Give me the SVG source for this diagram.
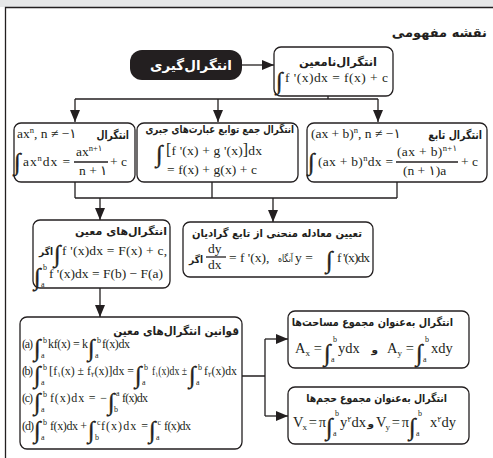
<svg xmlns="http://www.w3.org/2000/svg" width="493" height="458" viewBox="0 0 493 458">
<defs>
<marker id="ah" markerWidth="12" markerHeight="10" refX="12" refY="5" orient="auto" markerUnits="userSpaceOnUse"><path d="M0,0 L12,5 L0,10 z" fill="#231f20"/></marker>
</defs>
<style>
.box{fill:#fff;stroke:#231f20;stroke-width:1.3}
.ln{fill:none;stroke:#231f20;stroke-width:1.3}
.fa{font-family:"DejaVu Sans",sans-serif;font-weight:bold;fill:#231f20}
.fn{font-family:"DejaVu Sans",sans-serif;fill:#231f20}
.m{font-family:"Liberation Serif","DejaVu Sans",serif;font-size:13.5px;fill:#231f20}
.b{font-family:"Liberation Serif","DejaVu Sans",serif;font-size:14.5px;fill:#231f20}
.s{font-family:"Liberation Serif","DejaVu Sans",serif;font-size:12px;fill:#231f20}
.int{font-family:"Liberation Serif","DejaVu Serif",serif;font-size:24px;fill:#231f20;stroke:#231f20;stroke-width:0.4}
.lim{font-family:"Liberation Serif",serif;font-size:8px;fill:#231f20}
</style>
<rect x="0" y="0" width="493" height="7" fill="#e6e7e8"/>
<path class="ln" d="M5.5,458 V7.5 H493"/>
<text class="fa" x="487" y="37" font-size="13" text-anchor="end">نقشه مفهومی</text>

<g id="connectors">
<path class="ln" d="M242,65 H274" marker-end="url(#ah)"/>
<path class="ln" d="M328,96 V99 M75,99 H378"/>
<path class="ln" d="M75,99 V122" marker-end="url(#ah)"/>
<path class="ln" d="M218,99 V122" marker-end="url(#ah)"/>
<path class="ln" d="M378,99 V122" marker-end="url(#ah)"/>
<path class="ln" d="M75,182 V198 M212,182 V198 M397,182 V198 M75,198 H397"/>
<path class="ln" d="M100,198 V220" marker-end="url(#ah)"/>
<path class="ln" d="M273,198 V222" marker-end="url(#ah)"/>
<path class="ln" d="M100,288 V317" marker-end="url(#ah)"/>
<path class="ln" d="M242,376 H265 M265,339 V416"/>
<path class="ln" d="M265,339 H288" marker-end="url(#ah)"/>
<path class="ln" d="M265,416 H288" marker-end="url(#ah)"/>
</g>

<g id="integration">
<rect x="130" y="50" width="112" height="30" rx="12" fill="#231f20"/>
<text class="fa" x="191" y="70" font-size="13.5" text-anchor="middle" style="fill:#fff">انتگرال‌گیری</text>
</g>

<g id="indefinite">
<rect class="box" x="274" y="47" width="119" height="49" rx="7"/>
<text class="fa" x="338" y="66" font-size="11.5" text-anchor="middle">انتگرال‌نامعین</text>
<text class="int" x="276" y="89">∫</text>
<text class="m" x="285" y="82" textLength="103">f '(x)dx = f(x) + c</text>
</g>

<g id="power">
<rect class="box" x="14" y="123" width="121" height="59" rx="7"/>
<text class="m" x="17" y="138" font-size="14">ax<tspan font-size="8.5" dy="-5">n</tspan><tspan dy="5">, n ≠ −۱</tspan></text>
<text class="fa" transform="translate(129,139) scale(0.8,1)" font-size="11.5" text-anchor="end">انتگرال</text>
<text class="int" x="14" y="170">∫</text>
<text class="m" x="23" y="166" textLength="47">ax<tspan font-size="8.5" dy="-5">n</tspan><tspan dy="5">dx =</tspan></text>
<text class="m" x="76" y="156">ax<tspan font-size="8.5" dy="-5">n+۱</tspan></text>
<path class="ln" d="M74,162 H108" stroke-width="1"/>
<text class="m" x="79" y="175">n + ۱</text>
<text class="m" x="110" y="166">+ c</text>
</g>

<g id="sum">
<rect class="box" x="137" y="123" width="161" height="59" rx="7"/>
<text class="fa" transform="translate(294,133) scale(0.79,1)" font-size="11" text-anchor="end">انتگرال جمع توابع عبارت‌های جبری</text>
<text class="int" x="156" y="162">∫</text>
<text class="m" x="166" y="155" textLength="96"><tspan font-size="16">[</tspan>f '(x) + g '(x)<tspan font-size="16">]</tspan>dx</text>
<text class="m" x="167" y="174" textLength="90">= f(x) + g(x) + c</text>
</g>

<g id="linear">
<rect class="box" x="307" y="123" width="180" height="59" rx="7"/>
<text class="m" x="311" y="138" font-size="14">(ax + b)<tspan font-size="8.5" dy="-5">n</tspan><tspan dy="5">, n ≠ −۱</tspan></text>
<text class="fa" transform="translate(482,139) scale(0.82,1)" font-size="11.5" text-anchor="end">انتگرال تابع</text>
<text class="int" x="308" y="170">∫</text>
<text class="m" x="318" y="166" textLength="75">(ax + b)<tspan font-size="8.5" dy="-5">n</tspan><tspan dy="5">dx =</tspan></text>
<text class="m" x="397" y="156" textLength="60">(ax + b)<tspan font-size="8.5" dy="-5">n+۱</tspan></text>
<path class="ln" d="M396,162 H458" stroke-width="1"/>
<text class="m" x="403" y="175">(n + ۱)a</text>
<text class="m" x="461" y="166">+ c</text>
</g>

<g id="definite">
<rect class="box" x="33" y="220" width="137" height="68" rx="7"/>
<text class="fa" x="167" y="235" font-size="11" text-anchor="end">انتگرال‌های معین</text>
<text class="fa" transform="translate(53,255) scale(0.9,1)" font-size="10" text-anchor="end">اگر</text>
<text class="int" x="54" y="262">∫</text>
<text class="m" x="62" y="255" textLength="105">f '(x)dx = F(x) + c,</text>
<text class="int" x="34" y="285">∫</text>
<text class="lim" x="43" y="270">b</text>
<text class="lim" x="41" y="287">a</text>
<text class="m" x="49" y="278" textLength="114">f '(x)dx = F(b) − F(a)</text>
</g>

<g id="gradient">
<rect class="box" x="183" y="222" width="190" height="55" rx="7"/>
<text class="fa" transform="translate(362,237) scale(0.91,1)" font-size="11" text-anchor="end">تعیین معادله منحنی از تابع گرادیان</text>
<text class="fa" transform="translate(203,263) scale(0.9,1)" font-size="10" text-anchor="end">اگر</text>
<text class="m" x="208" y="253">dy</text>
<path class="ln" d="M206,257 H226" stroke-width="1"/>
<text class="m" x="208" y="269">dx</text>
<text class="m" x="229" y="262">= f '(x),</text>
<text class="fn" transform="translate(293,262) scale(0.78,1)" font-size="10" text-anchor="end">آنگاه</text>
<text class="m" x="295" y="262">y =</text>
<text class="int" x="326" y="268">∫</text>
<text class="m" x="337" y="262" textLength="33">f '(x)dx</text>
</g>

<g id="rules">
<rect class="box" x="20" y="317" width="222" height="132" rx="7"/>
<text class="fa" transform="translate(239,335) scale(0.91,1)" font-size="11.5" text-anchor="end">قوانین انتگرال‌های معین</text>
<text class="s" x="22" y="348" textLength="11">(a)</text>
<text class="int" x="34" y="356" font-size="21">∫</text>
<text class="lim" x="43" y="343">b</text>
<text class="lim" x="41" y="358">a</text>
<text class="s" x="48" y="348" textLength="40">kf(x) = k</text>
<text class="int" x="88" y="356" font-size="21">∫</text>
<text class="lim" x="97" y="343">b</text>
<text class="lim" x="95" y="358">a</text>
<text class="s" x="102" y="348" textLength="28">f(x)dx</text>

<text class="s" x="22" y="375" textLength="11">(b)</text>
<text class="int" x="34" y="383" font-size="21">∫</text>
<text class="lim" x="43" y="370">b</text>
<text class="lim" x="41" y="385">a</text>
<text class="s" x="49" y="375" font-size="11" textLength="85" lengthAdjust="spacingAndGlyphs"><tspan font-size="13">[</tspan>f<tspan font-size="7" dy="2">۱</tspan><tspan dy="-2">(x) ± f</tspan><tspan font-size="7" dy="2">۲</tspan><tspan dy="-2">(x)</tspan><tspan font-size="13">]</tspan>dx =</text>
<text class="int" x="135" y="383" font-size="21">∫</text>
<text class="lim" x="144" y="370">b</text>
<text class="lim" x="142" y="385">a</text>
<text class="s" x="152" y="375" font-size="11" textLength="35" lengthAdjust="spacingAndGlyphs">f<tspan font-size="7" dy="2">۱</tspan><tspan dy="-2">(x)dx ±</tspan></text>
<text class="int" x="189" y="383" font-size="21">∫</text>
<text class="lim" x="198" y="370">b</text>
<text class="lim" x="196" y="385">a</text>
<text class="s" x="204" y="375" font-size="11" textLength="33" lengthAdjust="spacingAndGlyphs">f<tspan font-size="7" dy="2">۲</tspan><tspan dy="-2">(x)dx</tspan></text>

<text class="s" x="22" y="402" textLength="11">(c)</text>
<text class="int" x="34" y="410" font-size="21">∫</text>
<text class="lim" x="43" y="397">b</text>
<text class="lim" x="41" y="412">a</text>
<text class="s" x="50" y="402" textLength="57">f(x)dx = −</text>
<text class="int" x="108" y="410" font-size="21">∫</text>
<text class="lim" x="116" y="396">a</text>
<text class="lim" x="114" y="412">b</text>
<text class="s" x="122" y="402" textLength="26">f(x)dx</text>

<text class="s" x="22" y="430" textLength="12">(d)</text>
<text class="int" x="34" y="438" font-size="21">∫</text>
<text class="lim" x="43" y="425">b</text>
<text class="lim" x="41" y="440">a</text>
<text class="s" x="50" y="430" textLength="37">f(x)dx +</text>
<text class="int" x="88" y="438" font-size="21">∫</text>
<text class="lim" x="97" y="425">c</text>
<text class="lim" x="95" y="440">b</text>
<text class="s" x="101" y="430" textLength="47">f(x)dx =</text>
<text class="int" x="149" y="438" font-size="21">∫</text>
<text class="lim" x="157.5" y="425">c</text>
<text class="lim" x="156" y="440">a</text>
<text class="s" x="164" y="430" textLength="27">f(x)dx</text>
</g>

<g id="areas">
<rect class="box" x="288" y="311" width="181" height="57" rx="7"/>
<text class="fa" transform="translate(453,326) scale(0.88,1)" font-size="11" text-anchor="end">انتگرال به‌عنوان مجموع مساحت‌ها</text>
<text class="b" x="295" y="353" textLength="27">A<tspan font-size="9" dy="3">x</tspan><tspan dy="-3"> =</tspan></text>
<text class="int" x="324" y="361">∫</text>
<text class="lim" x="333" y="342">b</text>
<text class="lim" x="331" y="362">a</text>
<text class="b" x="338" y="353">ydx</text>
<text class="fa" x="378" y="353" font-size="10.5" text-anchor="end">و</text>
<text class="b" x="387" y="353" textLength="27">A<tspan font-size="9" dy="3">y</tspan><tspan dy="-3"> =</tspan></text>
<text class="int" x="416" y="361">∫</text>
<text class="lim" x="425" y="342">b</text>
<text class="lim" x="423" y="362">a</text>
<text class="b" x="431" y="353">xdy</text>
</g>

<g id="volumes">
<rect class="box" x="288" y="387" width="181" height="57" rx="7"/>
<text class="fa" transform="translate(447,402) scale(0.85,1)" font-size="11" text-anchor="end">انتگرال به‌عنوان مجموع حجم‌ها</text>
<text class="b" x="293" y="427" textLength="33">V<tspan font-size="9" dy="3">x</tspan><tspan dy="-3"> = π</tspan></text>
<text class="int" x="326" y="435">∫</text>
<text class="lim" x="335" y="416">b</text>
<text class="lim" x="333" y="436">a</text>
<text class="b" x="340" y="427">y<tspan font-size="8" dy="-5">۲</tspan><tspan dy="5">dx</tspan></text>
<text class="fa" x="374" y="427" font-size="10.5" text-anchor="end">و</text>
<text class="b" x="376" y="427" textLength="33">V<tspan font-size="9" dy="3">y</tspan><tspan dy="-3"> = π</tspan></text>
<text class="int" x="409" y="435">∫</text>
<text class="lim" x="418" y="416">b</text>
<text class="lim" x="416" y="436">a</text>
<text class="b" x="430" y="427">x<tspan font-size="8" dy="-5">۲</tspan><tspan dy="5">dy</tspan></text>
</g>
</svg>
